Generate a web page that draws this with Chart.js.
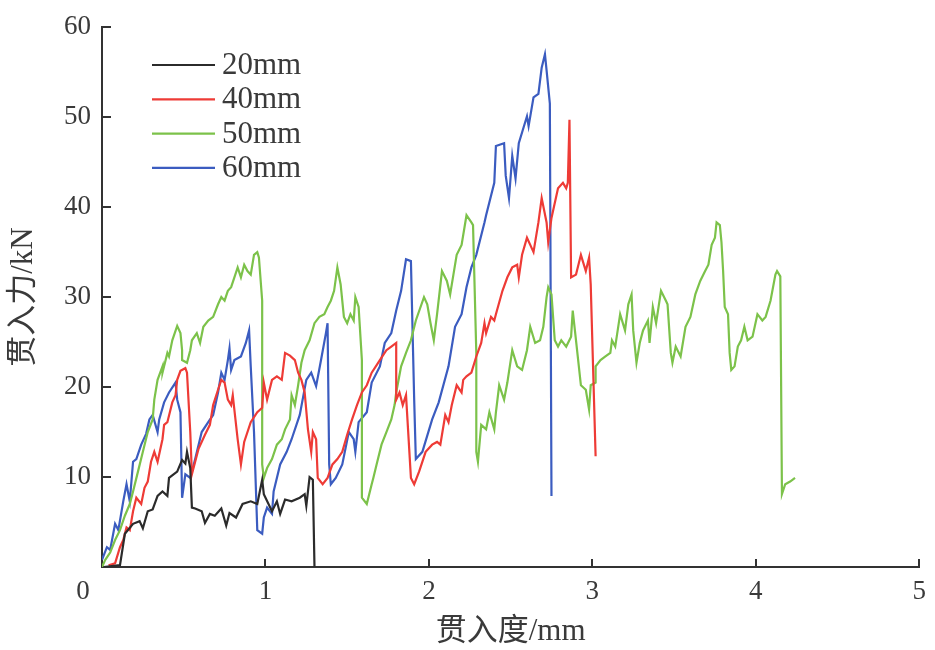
<!DOCTYPE html>
<html><head><meta charset="utf-8">
<script src="https://cdn.jsdelivr.net/npm/chart.js@4/dist/chart.umd.min.js"></script>
<style>html,body{margin:0;padding:0;background:#fff}</style>
</head><body>
<canvas id="c" width="935" height="650"></canvas>
<script>
const seriesLabels = ['20mm', '40mm', '50mm', '60mm'];
const seriesColors = ['#2b2b2b', '#ee3b36', '#7cc24a', '#3b5cc0'];
const xAxisTitle = '贯入度/mm';
const yAxisTitle = '贯入力/kN';
const xTickValues = [0, 1, 2, 3, 4, 5];
const yTickValues = [0, 10, 20, 30, 40, 50, 60];

const x20 = [0.01,0.11,0.14,0.19,0.23,0.25,0.28,0.31,0.34,0.37,0.40,0.41,0.46,0.49,0.51,0.52,0.54,0.55,0.57,0.61,0.63,0.66,0.69,0.73,0.76,0.78,0.82,0.86,0.91,0.95,0.98,0.99,1.04,1.07,1.09,1.12,1.16,1.21,1.24,1.25,1.27,1.29,1.30];
const y20 = [0,0.2,3.7,4.8,5.1,4.3,6.2,6.4,7.9,8.4,7.9,9.9,10.6,11.9,11.5,12.8,11,6.6,6.5,6.2,4.9,5.9,5.7,6.5,4.6,6.0,5.5,7.0,7.3,7.0,9.7,8.1,6.2,7.3,5.9,7.5,7.3,7.7,8.1,6.8,10,9.7,0];

const x40 = [0.04,0.08,0.11,0.13,0.15,0.17,0.19,0.21,0.24,0.26,0.28,0.30,0.32,0.34,0.37,0.38,0.40,0.43,0.45,0.46,0.48,0.51,0.52,0.54,0.55,0.57,0.59,0.63,0.66,0.68,0.71,0.73,0.75,0.77,0.79,0.80,0.83,0.85,0.87,0.91,0.95,0.98,0.99,1.01,1.04,1.07,1.10,1.12,1.15,1.18,1.20,1.22,1.24,1.26,1.28,1.29,1.31,1.32,1.35,1.38,1.41,1.44,1.47,1.50,1.53,1.56,1.59,1.62,1.65,1.70,1.74,1.77,1.80,1.80,1.82,1.84,1.86,1.89,1.91,1.94,1.98,2.02,2.05,2.07,2.10,2.12,2.14,2.17,2.20,2.21,2.23,2.26,2.29,2.32,2.34,2.35,2.38,2.40,2.41,2.45,2.48,2.51,2.54,2.55,2.57,2.60,2.62,2.64,2.67,2.69,2.72,2.73,2.75,2.79,2.82,2.84,2.85,2.86,2.87,2.90,2.93,2.96,2.98,2.99,3.02];
const y40 = [0.2,0.4,2.2,3.0,4.4,4.1,6.2,7.7,7.0,8.8,9.5,11.7,12.8,11.7,14.2,15.8,16.1,18.3,19.1,20.8,21.8,22.1,21.6,15.0,10.3,11.7,13.1,14.7,15.8,18.0,19.7,20.8,20.5,18.6,18.0,19.1,14.2,11.4,13.9,16.1,17.2,17.7,20.5,18.6,20.8,21.2,20.8,23.8,23.5,23.0,21.6,20.8,19.4,15.3,12.8,15.0,14.2,9.9,9.2,9.9,11.4,12.0,12.8,14.7,16.4,18.0,19.4,20.2,21.6,23.0,24.1,24.5,24.9,18.6,19.4,18.0,19.1,9.9,9.2,10.6,12.8,13.6,13.9,13.6,16.9,16.1,18.0,20.2,19.4,20.8,21.2,21.6,23.4,24.9,27.1,26.0,27.8,27.4,28.1,30.7,32.2,33.3,33.6,32.2,34.7,36.6,35.8,35.0,38.3,41.0,38.3,36.1,38.8,42.1,42.7,42.1,42.7,49.7,32.2,32.5,34.7,32.9,34.4,31.4,12.3];

const x50 = [0.00,0.02,0.05,0.08,0.11,0.14,0.17,0.19,0.22,0.25,0.28,0.31,0.32,0.34,0.37,0.37,0.40,0.41,0.43,0.46,0.48,0.49,0.49,0.52,0.54,0.55,0.58,0.60,0.62,0.65,0.68,0.71,0.73,0.75,0.77,0.79,0.81,0.83,0.85,0.87,0.89,0.91,0.93,0.95,0.96,0.98,0.98,0.99,1.01,1.04,1.07,1.10,1.12,1.15,1.16,1.18,1.20,1.22,1.24,1.27,1.30,1.33,1.36,1.38,1.40,1.42,1.44,1.46,1.48,1.50,1.52,1.54,1.55,1.57,1.59,1.59,1.62,1.65,1.66,1.68,1.71,1.74,1.77,1.79,1.80,1.83,1.86,1.89,1.92,1.97,1.99,2.01,2.03,2.05,2.08,2.11,2.13,2.15,2.17,2.20,2.23,2.26,2.27,2.29,2.29,2.30,2.32,2.35,2.37,2.40,2.41,2.43,2.46,2.48,2.51,2.54,2.57,2.60,2.62,2.65,2.68,2.70,2.72,2.73,2.75,2.77,2.79,2.81,2.84,2.87,2.88,2.90,2.93,2.96,2.98,2.99,3.02,3.02,3.05,3.08,3.11,3.12,3.14,3.17,3.20,3.22,3.24,3.25,3.27,3.29,3.31,3.34,3.35,3.37,3.39,3.42,3.45,3.46,3.48,3.49,3.51,3.54,3.57,3.60,3.63,3.66,3.69,3.71,3.73,3.75,3.76,3.78,3.79,3.80,3.81,3.83,3.84,3.85,3.87,3.89,3.91,3.93,3.95,3.98,4.01,4.04,4.06,4.09,4.12,4.13,4.15,4.16,4.18,4.21,4.24];
const y50 = [0.0,0.8,1.6,3.0,4.1,5.7,7.0,8.4,10.6,12.8,15.0,16.4,18.6,20.8,22.3,21.6,23.8,23.4,25.2,26.8,26.0,24.1,23.0,22.7,24.1,25.2,26.0,24.9,26.7,27.4,27.8,29.2,30.0,29.6,30.7,31.1,32.2,33.3,32.2,33.6,32.9,32.5,34.7,35.0,34.4,29.6,11.4,9.9,11.0,12.0,13.6,14.2,15.3,16.4,19.1,18.0,20.2,22.7,24.1,25.2,27.1,27.8,28.1,28.9,29.6,30.7,33.3,31.4,27.8,27.1,28.1,27.4,30.0,28.9,23.0,7.7,7.0,9.2,9.9,11.4,13.6,15.0,16.4,18.0,19.4,22.3,23.8,25.2,27.4,30.0,29.2,27.1,25.2,28.1,32.9,31.8,30.3,32.5,34.7,35.8,39.1,38.3,38.0,23.8,12.8,11.7,15.8,15.3,17.2,15.3,17.2,20.2,18.6,20.5,24.1,22.3,21.9,24.1,26.7,24.9,25.2,26.7,30.0,31.1,30.3,25.2,24.5,25.2,24.5,25.6,28.5,25.2,20.2,19.7,17.5,20.2,20.5,22.3,23.0,23.4,23.8,25.2,24.5,28.1,26.3,29.2,30.3,26.3,22.7,24.9,26.3,27.4,24.9,28.9,27.1,30.7,29.6,29.2,23.8,22.7,24.5,23.4,26.7,27.8,30.3,31.8,32.9,33.6,35.8,36.6,38.3,38.0,36.1,32.9,28.9,28.1,23.8,21.9,22.3,24.5,25.2,26.7,25.2,25.6,28.1,27.4,27.8,29.6,32.5,32.9,32.3,8.1,9.2,9.5,9.9];

const x60 = [0.00,0.03,0.05,0.08,0.10,0.13,0.15,0.17,0.19,0.21,0.24,0.27,0.29,0.31,0.34,0.35,0.38,0.41,0.45,0.46,0.48,0.49,0.51,0.54,0.57,0.61,0.65,0.68,0.71,0.73,0.75,0.77,0.78,0.79,0.81,0.85,0.88,0.90,0.91,0.93,0.95,0.98,0.99,1.01,1.04,1.05,1.09,1.13,1.16,1.21,1.25,1.28,1.31,1.34,1.37,1.38,1.39,1.40,1.43,1.47,1.51,1.54,1.55,1.57,1.62,1.65,1.70,1.73,1.77,1.80,1.83,1.86,1.89,1.91,1.92,1.96,2.02,2.06,2.12,2.16,2.20,2.23,2.26,2.29,2.34,2.35,2.40,2.41,2.46,2.47,2.49,2.51,2.53,2.55,2.60,2.61,2.64,2.67,2.69,2.71,2.72,2.74,2.75];
const y60 = [0.8,2.2,1.9,4.8,4.1,7.3,9.2,7.3,11.7,12.0,13.6,14.8,16.4,16.9,15.0,16.4,18.3,19.4,20.5,18.6,17.2,7.7,10.3,9.9,12.0,15.0,16.1,16.9,19.4,21.6,20.8,23.0,24.3,21.9,23.0,23.4,24.9,26.3,22.3,15.0,4.1,3.7,5.5,6.6,5.9,8.4,11.4,12.8,14.2,16.9,20.8,21.6,20.1,23.0,26.0,27.1,11.4,9.2,9.9,11.4,15.0,14.2,12.8,16.1,17.2,20.5,22.3,24.9,26.0,28.5,30.7,34.2,34.0,18.6,12.0,12.8,16.4,18.3,22.3,26.7,28.1,31.1,33.3,34.7,38.3,39.1,42.7,46.8,47.1,43.5,41.0,45.7,43.2,47.1,50.1,49.0,52.2,52.6,55.5,57.0,55.2,51.5,7.9];

const xs = [x20, x40, x50, x60];
const ys = [y20, y40, y50, y60];

const FONT = "'Liberation Serif','Times New Roman','Noto Sans CJK SC',serif";
const AXIS_COLOR = '#333333';
const TEXT_COLOR = '#3a3a3a';

const datasets = seriesLabels.map((lab, i) => ({
  label: lab,
  data: xs[i].map((x, j) => ({x: x, y: ys[i][j]})),
  showLine: true,
  borderColor: seriesColors[i],
  backgroundColor: seriesColors[i],
  borderWidth: 2.2,
  pointRadius: 0,
  tension: 0,
  fill: false
}));

const inwardTicks = {
  id: 'inwardTicks',
  afterDraw(chart) {
    const ctx = chart.ctx, sx = chart.scales.x, sy = chart.scales.y, a = chart.chartArea;
    ctx.save();
    ctx.strokeStyle = AXIS_COLOR; ctx.lineWidth = 2;
    xTickValues.forEach(v => { if (v === 0) return; const px = Math.round(sx.getPixelForValue(v)); ctx.beginPath(); ctx.moveTo(px, a.bottom); ctx.lineTo(px, a.bottom - 8); ctx.stroke(); });
    yTickValues.forEach(v => { if (v === 0) return; const py = Math.round(sy.getPixelForValue(v)); ctx.beginPath(); ctx.moveTo(a.left, py); ctx.lineTo(a.left + 9, py); ctx.stroke(); });
    ctx.fillStyle = TEXT_COLOR; ctx.font = '27px ' + FONT; ctx.textAlign = 'center'; ctx.textBaseline = 'middle';
    ctx.fillText(String(xTickValues[0]), sx.getPixelForValue(0) - 19, 592);
    ctx.restore();
  }
};

const innerLegend = {
  id: 'innerLegend',
  afterDraw(chart) {
    const ctx = chart.ctx;
    ctx.save();
    ctx.font = '31px ' + FONT; ctx.textBaseline = 'middle'; ctx.textAlign = 'left';
    chart.data.datasets.forEach((ds, i) => {
      const yy = 65 + i * 34.3;
      ctx.strokeStyle = ds.borderColor; ctx.lineWidth = 2.2;
      ctx.beginPath(); ctx.moveTo(152, yy); ctx.lineTo(215, yy); ctx.stroke();
      ctx.fillStyle = TEXT_COLOR; ctx.fillText(ds.label, 222, yy + 1);
    });
    ctx.restore();
  }
};

new Chart(document.getElementById('c'), {
  type: 'scatter',
  data: { datasets },
  plugins: [inwardTicks, innerLegend],
  options: {
    responsive: false,
    animation: false,
    devicePixelRatio: 1,
    layout: { padding: { left: 0, top: 19, right: 13, bottom: 0 } },
    plugins: { legend: { display: false }, tooltip: { enabled: false } },
    scales: {
      x: {
        type: 'linear', min: 0, max: 5,
        afterBuildTicks: s => { s.ticks = xTickValues.map(v => ({value: v})); },
        afterFit: s => { s.height = 83; },
        grid: { display: false, drawTicks: false },
        border: { display: true, color: AXIS_COLOR, width: 2 },
        ticks: { color: TEXT_COLOR, font: { family: FONT, size: 27 }, padding: 9, maxRotation: 0, callback: v => v === 0 ? '' : String(v) },
        title: { display: true, text: xAxisTitle, color: TEXT_COLOR, font: { family: FONT, size: 31 }, padding: { top: 0, bottom: 0 } }
      },
      y: {
        type: 'linear', min: 0, max: 60,
        afterBuildTicks: s => { s.ticks = yTickValues.map(v => ({value: v})); },
        afterFit: s => { s.width = 102; },
        grid: { display: false, drawTicks: false },
        border: { display: true, color: AXIS_COLOR, width: 2 },
        ticks: { color: TEXT_COLOR, font: { family: FONT, size: 27 }, padding: 11, callback: v => v === 0 ? '' : String(v) },
        title: { display: true, text: yAxisTitle, color: TEXT_COLOR, font: { family: FONT, size: 31 }, padding: { top: 5, bottom: 0 } }
      }
    }
  }
});
</script>
</body></html>
